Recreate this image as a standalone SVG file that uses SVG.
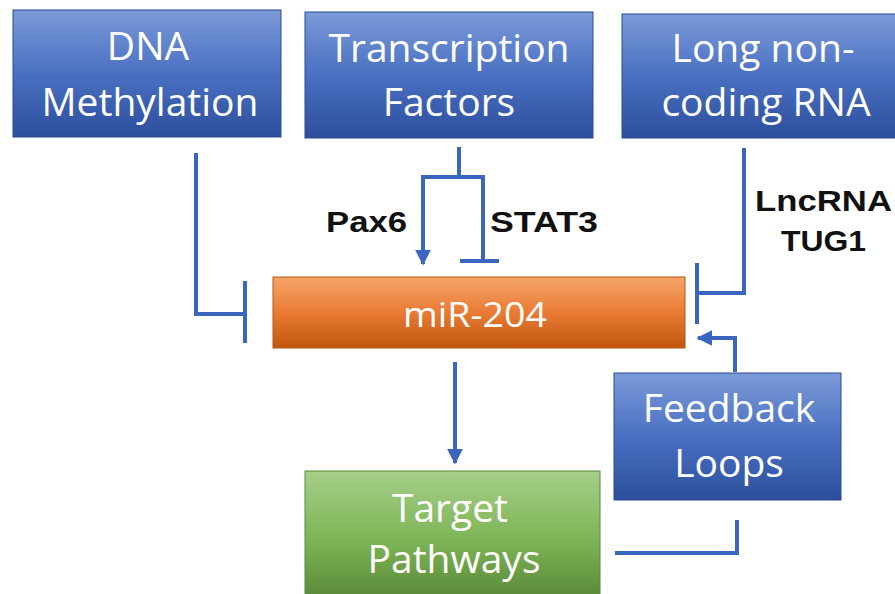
<svg xmlns="http://www.w3.org/2000/svg" width="895" height="594" viewBox="0 0 895 594">
<defs>
<linearGradient id="gBlue" x1="0" y1="0" x2="0" y2="1">
<stop offset="0" stop-color="#7b9ad8"/>
<stop offset="0.5" stop-color="#4a70c2"/>
<stop offset="1" stop-color="#2c4f9c"/>
</linearGradient>
<linearGradient id="gOrange" x1="0" y1="0" x2="0" y2="1">
<stop offset="0" stop-color="#f6a56a"/>
<stop offset="0.5" stop-color="#e97b34"/>
<stop offset="1" stop-color="#c0560f"/>
</linearGradient>
<linearGradient id="gGreen" x1="0" y1="0" x2="0" y2="1">
<stop offset="0" stop-color="#a6cf88"/>
<stop offset="0.5" stop-color="#7db456"/>
<stop offset="1" stop-color="#527f31"/>
</linearGradient>
<marker id="arr" viewBox="0 0 10 10" refX="9" refY="5" markerWidth="4" markerHeight="4" orient="auto" markerUnits="strokeWidth">
<path d="M0,0 L10,5 L0,10 z" fill="#3b66c0"/>
</marker>
</defs>
<style>
.box{stroke:#2a4a8e;stroke-width:1}
.blue{fill:url(#gBlue)}
.orange{fill:url(#gOrange);stroke:#b9540f}
.green{fill:url(#gGreen);stroke:#5a8a3a}
.t{font-family:"Open Sans","Liberation Sans",sans-serif;fill:#ffffff;text-anchor:middle;font-size:39px}
.lbl{font-family:"Liberation Sans",Arial,sans-serif;font-weight:bold;fill:#111111;font-size:30px}
.c{fill:none;stroke:#3b66c0;stroke-width:4;stroke-linecap:butt;stroke-linejoin:miter}
</style>
<rect width="895" height="594" fill="#ffffff"/>

<g id="dna">
<rect class="box blue" x="13" y="10" width="268" height="127"/>
<text class="t" x="148" y="60">DNA</text>
<text class="t" x="150" y="116">Methylation</text>
</g>

<g id="tf">
<rect class="box blue" x="305" y="12" width="288" height="126"/>
<text class="t" x="449" y="62">Transcription</text>
<text class="t" x="449" y="116">Factors</text>
</g>

<g id="lnc">
<rect class="box blue" x="622" y="14" width="290" height="124"/>
<text class="t" x="763" y="62">Long non-</text>
<text class="t" x="766" y="116">coding RNA</text>
</g>

<g id="mir">
<rect class="box orange" x="273" y="277" width="412" height="71"/>
<text class="t" x="475" y="327" style="font-size:35px" textLength="144" lengthAdjust="spacingAndGlyphs">miR-204</text>
</g>

<g id="feedback">
<rect class="box blue" x="614" y="373" width="227" height="127"/>
<text class="t" x="729" y="422">Feedback</text>
<text class="t" x="729" y="477">Loops</text>
</g>

<g id="target">
<rect class="box green" x="305" y="471" width="295" height="140"/>
<text class="t" x="450" y="522">Target</text>
<text class="t" x="454" y="573">Pathways</text>
</g>

<g id="connectors">
<path class="c" d="M196,153 V314 H245"/>
<path class="c" d="M245,281 V343"/>
<path class="c" d="M459,147 V177"/>
<path class="c" d="M423,253 V177 H483 V261"/>
<path class="c" d="M423,250 V264" marker-end="url(#arr)"/>
<path class="c" d="M460,261 H499"/>
<path class="c" d="M744,148 V293 H697"/>
<path class="c" d="M697,263 V324"/>
<path class="c" d="M735,372 V338 H698" marker-end="url(#arr)"/>
<path class="c" d="M455,362 V463" marker-end="url(#arr)"/>
<path class="c" d="M615,553 H737 V520"/>
</g>

<text class="lbl" x="326" y="232" textLength="81" lengthAdjust="spacingAndGlyphs">Pax6</text>
<text class="lbl" x="490" y="232" textLength="108" lengthAdjust="spacingAndGlyphs">STAT3</text>
<text class="lbl" x="755" y="211" textLength="137" lengthAdjust="spacingAndGlyphs">LncRNA</text>
<text class="lbl" x="781" y="251" textLength="85" lengthAdjust="spacingAndGlyphs">TUG1</text>
</svg>
